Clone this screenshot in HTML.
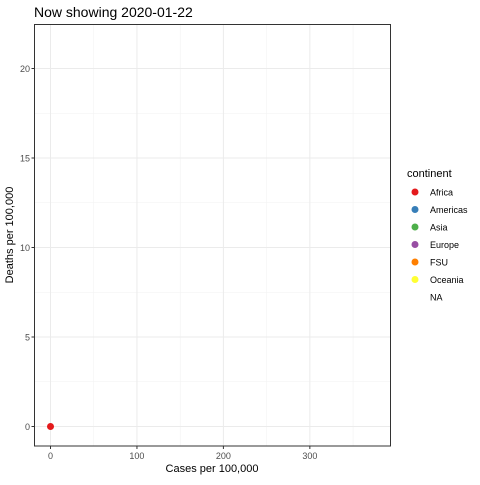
<!DOCTYPE html>
<html><head><meta charset="utf-8"><style>
body{margin:0;background:#fff;font-family:"Liberation Sans",sans-serif}
</style></head><body>
<svg width="480" height="480" font-family="Liberation Sans, sans-serif">
<rect width="480" height="480" fill="#fff"/>
<text x="34" y="17" font-size="14" fill="#000">Now showing 2020-01-22</text>
<g id="grid"></g>
<g id="marks"></g>
<rect x="34.5" y="24.5" width="356" height="421.5" fill="none" stroke="#333" stroke-width="1"/>
<g id="axes" font-size="9" fill="#4d4d4d"></g>
<text x="212" y="472" font-size="11" text-anchor="middle">Cases per 100,000</text>
<text transform="translate(13,235) rotate(-90)" font-size="11" text-anchor="middle">Deaths per 100,000</text>
<g id="legend" font-size="9"></g>
</svg>
<script>
const xTicks=[0,100,200,300];
const xMinor=[50,150,250,350];
const yTicks=[0,5,10,15,20];
const yMinor=[2.5,7.5,12.5,17.5];
const cases=[0];
const deaths=[0];
const pointContinent=['Africa'];
const continents=['Africa','Americas','Asia','Europe','FSU','Oceania','NA'];
const colors=['#e41a1c','#377eb8','#4daf4a','#984ea3','#ff7f00','#ffff33',null];
const NS='http://www.w3.org/2000/svg';
function X(v){return 50.5+v*0.8645;}
function Y(v){return 426.5-v*17.9;}
function mk(t,a,p){const e=document.createElementNS(NS,t);for(const k in a)e.setAttribute(k,a[k]);p.appendChild(e);return e;}
const grid=document.getElementById('grid'),axes=document.getElementById('axes'),marks=document.getElementById('marks'),leg=document.getElementById('legend');
xMinor.forEach(v=>{const l=mk('line',{x1:X(v),x2:X(v),y1:24.5,y2:446,stroke:'#f2f2f2','stroke-width':0.6},grid);

});
yMinor.forEach(v=>{const l=mk('line',{x1:34.5,x2:390.5,y1:Y(v),y2:Y(v),stroke:'#f2f2f2','stroke-width':0.6},grid);

});
xTicks.forEach(v=>{const l=mk('line',{x1:X(v),x2:X(v),y1:24.5,y2:446,stroke:'#ebebeb','stroke-width':1},grid);


mk('line',{x1:X(v),x2:X(v),y1:446,y2:449,stroke:'#333'},axes);
const t=mk('text',{x:X(v),y:459,'text-anchor':'middle'},axes);t.textContent=v;

});
yTicks.forEach(v=>{const l=mk('line',{x1:34.5,x2:390.5,y1:Y(v),y2:Y(v),stroke:'#ebebeb','stroke-width':1},grid);


mk('line',{x1:31.5,x2:34.5,y1:Y(v),y2:Y(v),stroke:'#333'},axes);
const t=mk('text',{x:30,y:Y(v)+3.5,'text-anchor':'end'},axes);t.textContent=v;

});
cases.forEach((c,i)=>{const p=mk('circle',{cx:X(c),cy:Y(deaths[i]),r:3.5,fill:colors[continents.indexOf(pointContinent[i])]},marks);

});
const lt=mk('text',{x:407,y:177,'font-size':11},leg);lt.textContent='continent';


continents.forEach((c,i)=>{const y=192+i*17.5;
if(colors[i]){const d=mk('circle',{cx:415,cy:y,r:3.5,fill:colors[i]},leg);

}
const t=mk('text',{x:430,y:y+3.5,fill:'#000'},leg);t.textContent=c;

});
</script>
</body></html>
